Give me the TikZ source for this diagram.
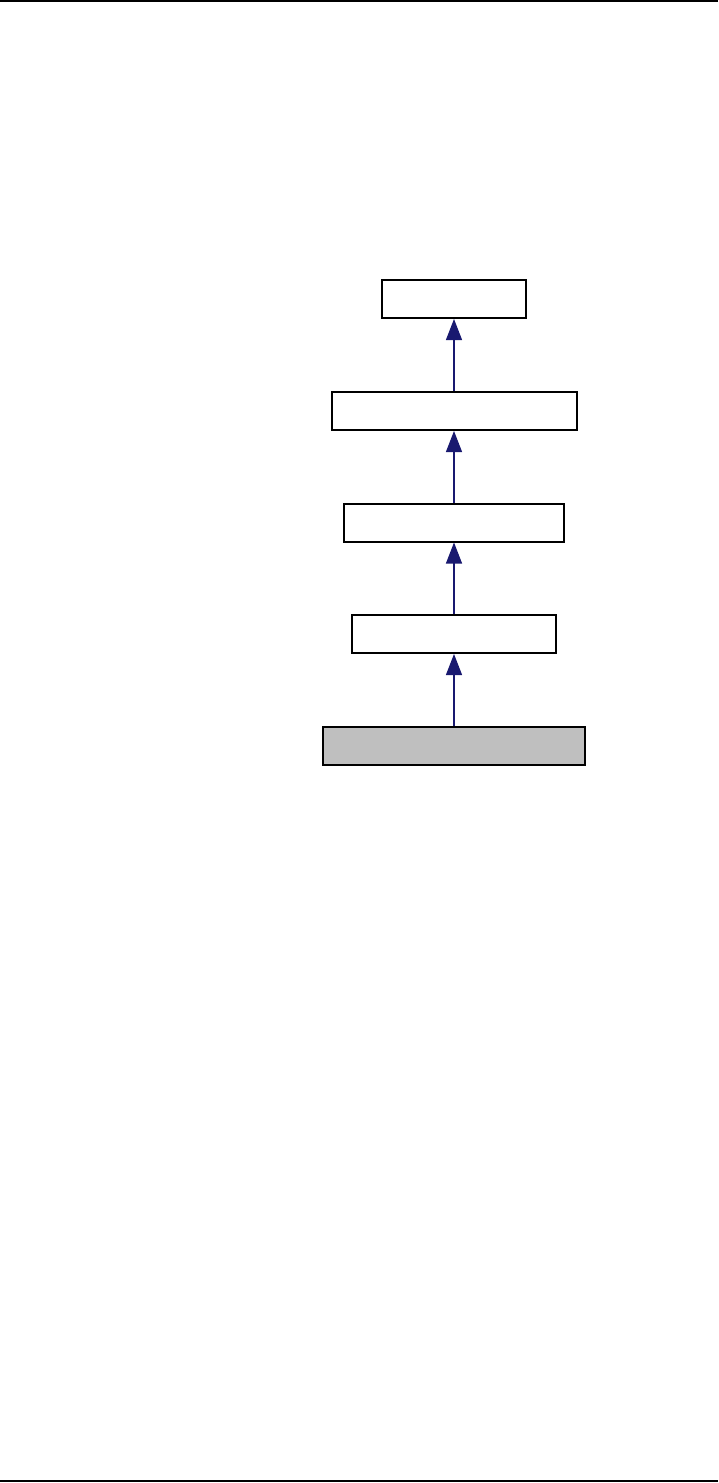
\documentclass[tikz,border=0pt]{standalone}
\usepackage{xcolor}
\usepackage{tikz}
\usetikzlibrary{arrows.meta}

\definecolor{edgeblue}{RGB}{25,25,112}
\definecolor{boxgray}{RGB}{191,191,191}

\begin{document}
\begin{tikzpicture}[x=1pt, y=-1pt, line cap=butt, line join=miter,
    classbox/.style={draw=black, line width=2pt, fill=white, inner sep=0pt,
                     minimum height=38pt},
    inherit/.style={draw=edgeblue, line width=1.2pt,
                    -{Triangle[length=21pt, width=16pt]}, fill=edgeblue}]

  %--- Page frame (1 unit = 1 px of the reference) ---------------------------
  \useasboundingbox (0,0) rectangle (718,1483);
  \draw[line width=1.5pt] (0,0.75) -- (718,0.75);
  \draw[line width=1.5pt] (0,1481) -- (718,1481);

  %--- Class boxes ------------------------------------------------------------
  \node[classbox, minimum width=144pt] (base)   at (454,299)   {};
  \node[classbox, minimum width=245pt] (second) at (454,411)   {};
  \node[classbox, minimum width=220pt] (third)  at (454,522.5) {};
  \node[classbox, minimum width=204pt] (fourth) at (454,634)   {};
  \node[classbox, minimum width=262pt, fill=boxgray] (leaf) at (454,746) {};

  %--- Inheritance arrows ------------------------------------------------------
  \draw[inherit] (second.north) -- (base.south);
  \draw[inherit] (third.north)  -- (second.south);
  \draw[inherit] (fourth.north) -- (third.south);
  \draw[inherit] (leaf.north)   -- (fourth.south);

\end{tikzpicture}
\end{document}
